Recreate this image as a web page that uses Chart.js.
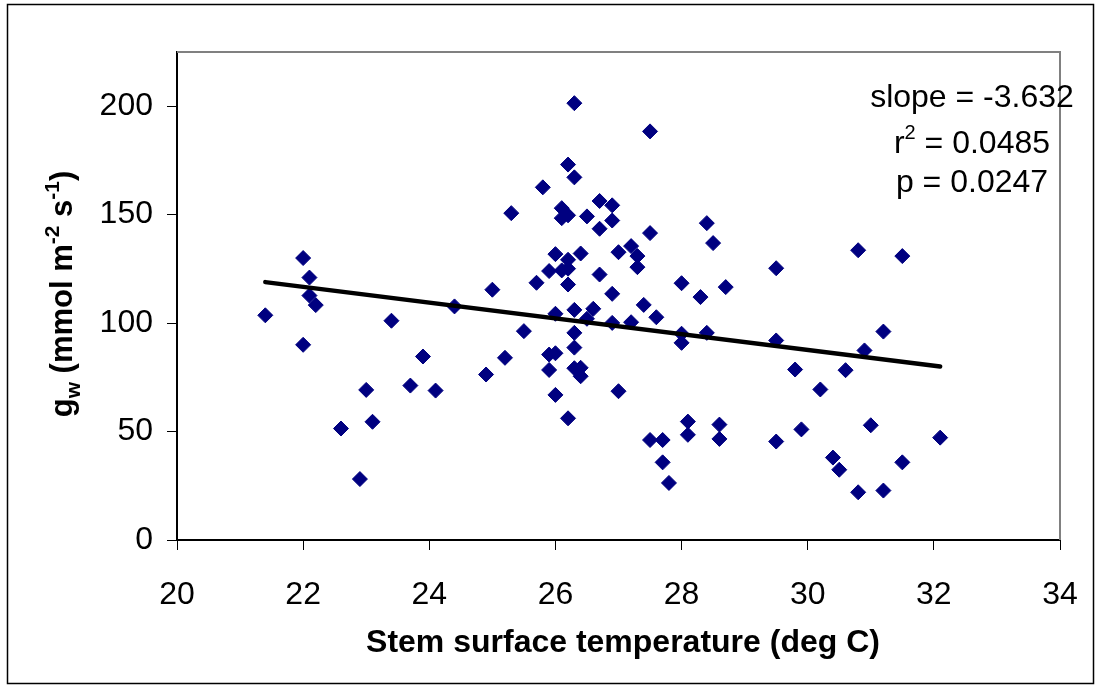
<!DOCTYPE html>
<html>
<head>
<meta charset="utf-8">
<script src="https://cdn.jsdelivr.net/npm/chart.js@4"></script>
<style>
  body { margin: 0; background: #fff; }
  #wrap { width: 1101px; height: 687px; position: relative; }
</style>
</head>
<body>
<div id="wrap"><canvas id="chart"></canvas></div>
<script>
// stem surface temperature (deg C)
const tempC = [
    21.4, 22.0, 22.1, 22.1, 22.2, 22.0, 23.4, 23.9, 23.0, 23.7, 24.1, 22.6, 23.1, 22.9, 24.4, 25.0, 24.9, 25.2,
    26.3, 27.5, 26.2, 26.3, 25.8, 25.3, 26.1, 26.2, 26.1, 26.5, 26.7, 26.9, 26.9, 26.7, 27.5, 28.4, 28.5, 26.0,
    26.4, 26.2, 25.9, 26.1, 26.2, 27.0, 27.2, 27.3, 27.3, 26.7, 25.7, 26.2, 28.0, 28.7, 28.3, 26.9, 29.5, 27.4,
    26.6, 26.3, 26.0, 26.5, 27.6, 26.9, 27.2, 25.5, 26.3, 28.0, 28.0, 28.4, 29.5, 26.3, 26.0, 25.9, 25.9, 26.3,
    26.4, 26.4, 26.0, 27.0, 26.2, 28.1, 28.1, 28.6, 28.6, 27.5, 27.7, 27.7, 27.8, 29.5,
    31.2, 30.9, 29.8, 30.6, 30.2, 29.9, 31.0, 32.1, 30.4, 30.5, 31.5, 30.8, 31.2, 30.8, 31.5,
];
// gw (mmol m-2 s-1)
const gw = [
    103.6, 130.0, 121.0, 112.7, 108.3, 90.0, 101.1, 84.6, 69.2, 71.2, 68.9, 51.4, 54.5, 28.1, 107.7, 115.4, 76.3, 84.0,
    201.4, 188.4, 173.1, 167.2, 162.6, 150.7, 153.0, 149.7, 148.4, 149.2, 156.3, 154.3, 147.3, 143.5, 141.5, 146.1, 136.9, 131.8,
    132.1, 129.2, 124.0, 124.3, 125.1, 132.7, 135.5, 130.9, 125.8, 122.4, 118.6, 117.8, 118.4, 116.6, 112.0, 113.5, 125.3, 108.4,
    106.6, 106.1, 104.3, 102.0, 102.7, 100.1, 100.4, 96.3, 95.5, 95.1, 90.9, 95.5, 92.0, 88.7, 86.1, 85.5, 78.4, 79.2,
    79.4, 75.5, 66.9, 68.6, 56.1, 54.6, 48.5, 53.2, 46.6, 46.1, 46.1, 35.8, 26.3, 45.4,
    96.1, 87.4, 78.6, 78.3, 69.4, 51.0, 52.9, 47.2, 38.0, 32.4, 35.8, 22.0, 22.8, 133.6, 130.9,
];
// fitted line ends
const trendX = [21.4, 32.1];
const trendY = [118.9, 80.0];
const statLines = ["slope = -3.632", "r2 = 0.0485", "p = 0.0247"];

const FONT = "'Liberation Sans', Arial, sans-serif";

const frame = {
    id: "frame",
    beforeDraw(c) {
        const ctx = c.ctx;
        ctx.save();
        ctx.fillStyle = "#fff";
        ctx.fillRect(0, 0, c.width, c.height);
        ctx.strokeStyle = "#000";
        ctx.lineWidth = 1.5;
        ctx.strokeRect(7.5, 4.5, 1086, 679);
        ctx.restore();
    },
    afterDraw(c) {
        const ctx = c.ctx;
        const a = c.chartArea;
        ctx.save();
        // plot box, grey top and right
        ctx.strokeStyle = "#808080";
        ctx.lineWidth = 2;
        ctx.beginPath();
        ctx.moveTo(a.left, a.top);
        ctx.lineTo(a.right, a.top);
        ctx.lineTo(a.right, a.bottom);
        ctx.stroke();

        ctx.fillStyle = "#000";
        // x title
        ctx.font = "bold 32px " + FONT;
        ctx.textAlign = "center";
        ctx.textBaseline = "alphabetic";
        ctx.fillText("Stem surface temperature (deg C)", 623, 652);

        // y title with sub / superscripts
        const parts = [
            ["g", 31, 0],
            ["w", 21, -8],
            [" (mmol m", 31, 0],
            ["-2", 21, 13],
            [" s", 31, 0],
            ["-1", 21, 13],
            [")", 31, 0],
        ];
        let total = 0;
        parts.forEach(p => {
            ctx.font = "bold " + p[1] + "px " + FONT;
            total += ctx.measureText(p[0]).width;
        });
        ctx.translate(72, 294);
        ctx.rotate(-Math.PI / 2);
        ctx.textAlign = "left";
        let x = -total / 2;
        parts.forEach(p => {
            ctx.font = "bold " + p[1] + "px " + FONT;
            ctx.fillText(p[0], x, -p[2]);
            x += ctx.measureText(p[0]).width;
        });
        ctx.setTransform(1, 0, 0, 1, 0, 0);

        // regression stats
        const cx = 972;
        ctx.font = "32px " + FONT;
        ctx.textAlign = "center";
        ctx.fillText(statLines[0], cx, 107);
        ctx.fillText(statLines[2], cx, 192);
        const rest = statLines[1].slice(2);
        const wR = ctx.measureText("r").width;
        const wRest = ctx.measureText(rest).width;
        ctx.font = "20px " + FONT;
        const wSup = ctx.measureText("2").width;
        let sx = cx - (wR + wSup + wRest) / 2;
        ctx.textAlign = "left";
        ctx.font = "32px " + FONT;
        ctx.fillText("r", sx, 153);
        ctx.font = "20px " + FONT;
        ctx.fillText("2", sx + wR, 139);
        ctx.font = "32px " + FONT;
        ctx.fillText(rest, sx + wR + wSup, 153);
        ctx.restore();
    },
};

new Chart(document.getElementById("chart"), {
    type: "scatter",
    data: {
        datasets: [
            {
                data: tempC.map((t, i) => ({ x: t, y: gw[i] })),
                pointStyle: "rectRot",
                pointRadius: 7.5,
                pointBorderWidth: 1,
                backgroundColor: "#000080",
                borderColor: "#000080",
                order: 1,
            },
            {
                type: "line",
                data: trendX.map((t, i) => ({ x: t, y: trendY[i] })),
                borderColor: "#000",
                borderWidth: 4.5,
                pointRadius: 0,
                borderCapStyle: "round",
                order: 0,
            },
        ],
    },
    plugins: [frame],
    options: {
        responsive: true,
        maintainAspectRatio: false,
        animation: false,
        layout: { padding: { left: 0, top: 52, right: 41, bottom: 0 } },
        plugins: {
            legend: { display: false },
            tooltip: { enabled: false },
        },
        scales: {
            x: {
                type: "linear",
                min: 20,
                max: 34,
                ticks: {
                    stepSize: 2,
                    padding: 26,
                    color: "#000",
                    font: { family: FONT, size: 32 },
                    maxRotation: 0,
                },
                grid: {
                    drawOnChartArea: false,
                    tickLength: 10,
                    tickColor: "#000",
                    tickWidth: 1,
                },
                border: { color: "#000", width: 2 },
                afterFit(s) {
                    s.height = 147;
                    s.paddingRight = 0;
                },
            },
            y: {
                min: 0,
                max: 225,
                ticks: {
                    stepSize: 50,
                    padding: 14,
                    color: "#000",
                    font: { family: FONT, size: 32 },
                },
                afterBuildTicks(s) {
                    s.ticks = s.ticks.filter(t => t.value % 50 === 0);
                },
                grid: {
                    drawOnChartArea: false,
                    tickLength: 10,
                    tickColor: "#000",
                    tickWidth: 1,
                },
                border: { color: "#000", width: 2 },
                afterFit(s) { s.width = 177; },
            },
        },
    },
});
</script>
</body>
</html>
